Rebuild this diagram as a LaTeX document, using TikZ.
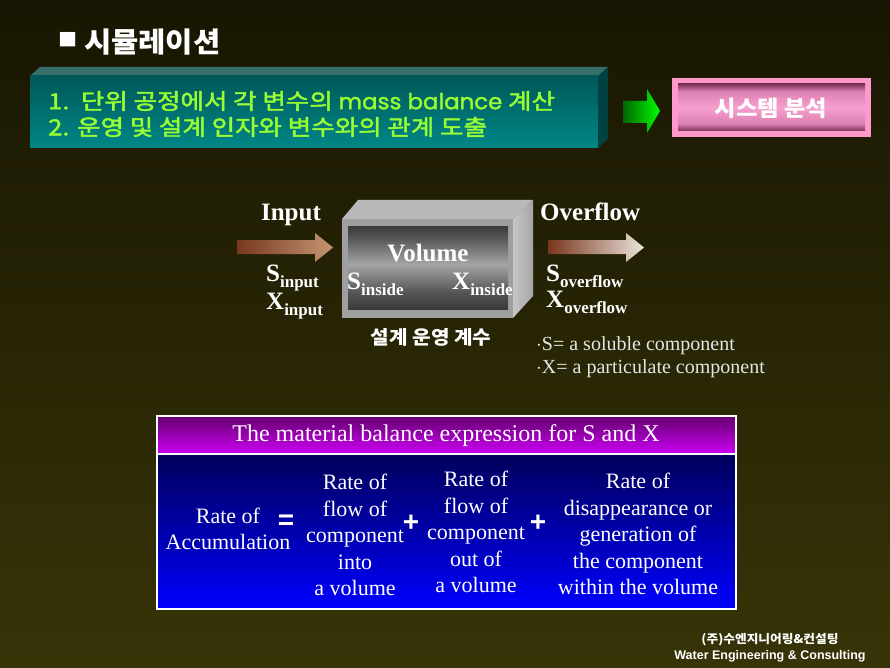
\documentclass[tikz,border=0pt]{standalone}
\usepackage{fontspec}
\setmainfont{Liberation Serif}
\newfontfamily\kr{Noto Sans CJK KR}[FakeStretch=1.06]
\newfontfamily\krwide{Noto Sans CJK KR}[FakeStretch=1.16,FakeBold=2]
\newfontfamily\geo{Poppins}[FakeStretch=1.04,FakeBold=1.5]
\newfontfamily\arialb{Liberation Sans}
\definecolor{bgtop}{RGB}{24,22,2}
\definecolor{bgbot}{RGB}{55,52,8}
\definecolor{leaf}{RGB}{153,255,51}
\definecolor{tealtop}{RGB}{0,88,88}
\definecolor{tealbot}{RGB}{0,135,135}
\definecolor{tealside}{RGB}{0,65,65}
\definecolor{tealroof}{RGB}{55,110,105}
\definecolor{pinkrim}{RGB}{255,153,204}
\definecolor{mauvedark}{RGB}{125,52,90}
\definecolor{mauvemid}{RGB}{222,128,178}
\definecolor{mauvelite}{RGB}{245,160,208}
\definecolor{brn}{RGB}{120,55,30}
\definecolor{tan}{RGB}{195,150,115}
\definecolor{cream}{RGB}{235,228,220}
\definecolor{plumtop}{RGB}{100,0,110}
\definecolor{plumbot}{RGB}{205,0,245}
\definecolor{navytop}{RGB}{0,0,90}
\definecolor{navybot}{RGB}{0,0,255}
\definecolor{voldark}{RGB}{58,58,58}
\definecolor{vollite}{RGB}{165,165,165}
\pgfdeclareverticalshading{volshade}{100bp}{color(0bp)=(voldark); color(25bp)=(voldark); color(35bp)=(voldark!75!vollite); color(52bp)=(vollite); color(67bp)=(voldark!70!vollite); color(75bp)=(voldark); color(100bp)=(voldark)}
\pgfdeclareverticalshading{pinkshade}{100bp}{color(0bp)=(mauvedark); color(25bp)=(mauvedark); color(33bp)=(mauvemid); color(50bp)=(mauvelite); color(67bp)=(mauvemid); color(75bp)=(mauvedark); color(100bp)=(mauvedark)}
\tikzset{
  wt/.style={text=white,inner sep=0pt},
  hangul/.style={wt,font=\kr\bfseries\fontsize{#1}{#1}\selectfont},
  bannerline/.style={inner sep=0pt,text=leaf,anchor=west,font=\krwide\fontsize{22}{22}\selectfont},
  varlbl/.style={wt,anchor=base west,font=\bfseries},
  eqtext/.style={wt,align=center,font=\fontsize{22}{26.5}\selectfont},
  eqsign/.style={wt,font=\arialb\bfseries\fontsize{28}{28}\selectfont}
}
\newcommand\flowvar[2]{{\fontsize{25}{25}\selectfont #1}\raisebox{-6pt}{\fontsize{17}{17}\selectfont #2}}
\begin{document}
\begin{tikzpicture}[x=1pt,y=-1pt]
\shade[top color=bgtop,bottom color=bgbot] (0,0) rectangle (890,668);
\useasboundingbox (0,0) rectangle (890,668);
\node[hangul=28,anchor=west] (title) at (58,42) {\raisebox{6pt}{\fontsize{18}{18}\selectfont ■}\ 시뮬레이션};

\fill[tealroof] (30,76) -- (40,67) -- (608,67) -- (598,76) -- cycle;
\shade[top color=tealtop,bottom color=tealbot] (30,76) rectangle (598,148);
\fill[tealside] (598,76) -- (608,67) -- (608,139) -- (598,148) -- cycle;
\node[bannerline] (step1) at (48,101) {1.\ \ 단위 공정에서 각 변수의 {\geo\fontsize{22}{22}\selectfont mass balance} 계산};
\node[bannerline] (step2) at (48,127) {2. 운영 및 설계 인자와 변수와의 관계 도출};

\shade[left color=green!40!black,right color=green] (623,101) -- (647,101) -- (647,89) -- (660,111) -- (647,133) -- (647,123) -- (623,123) -- cycle;
\fill[pinkrim] (672,78) rectangle (871,137);
\shade[shading=pinkshade] (678,84) rectangle (865,131);
\node[hangul=22] (analysis) at (771,108) {시스템 분석};

\def\flowarrow{(0,240) -- (78,240) -- (78,233) -- (96,247.5) -- (78,262) -- (78,254) -- (0,254) -- cycle}
\shade[left color=brn,right color=tan,shift={(237,0)}] \flowarrow;
\shade[left color=brn,right color=cream,shift={(548,0)}] \flowarrow;

\fill[gray!55] (342,219) -- (358,200) -- (533,200) -- (513,219) -- cycle;
\shade[left color=gray!45,right color=gray!70] (513,219) -- (533,200) -- (533,296) -- (513,318) -- cycle;
\fill[gray!75] (342,219) rectangle (513,318);
\shade[shading=volshade] (348,226) rectangle (508,309);

\node[wt,font=\bfseries\fontsize{25}{25}\selectfont] (input) at (291,215) {Input};
\node[varlbl] (sin) at (266,281) {\flowvar{S}{input}};
\node[varlbl] (xin) at (266,309) {\flowvar{X}{input}};
\node[wt,font=\bfseries\fontsize{25}{25}\selectfont] (volume) at (428,253) {Volume};
\node[varlbl] (sins) at (347,289) {\flowvar{S}{inside}};
\node[varlbl] (xins) at (452,289) {\flowvar{X}{inside}};
\node[hangul=19] (design) at (431,337) {설계 운영 계수};
\node[wt,font=\bfseries\fontsize{25}{25}\selectfont,anchor=base west] (overflow) at (540,221) {Overflow};
\node[varlbl] (sout) at (546,281) {\flowvar{S}{overflow}};
\node[varlbl] (xout) at (546,307) {\flowvar{X}{overflow}};
\node[wt,text=white!90!black,anchor=base west,font=\fontsize{20}{20}\selectfont] (soluble) at (536,350) {$\cdot$S= a soluble component};
\node[wt,text=white!90!black,anchor=base west,font=\fontsize{20}{20}\selectfont] (partic) at (536,373) {$\cdot$X= a particulate component};

\shade[top color=plumtop,bottom color=plumbot] (157,416) rectangle (736,454);
\shade[top color=navytop,bottom color=navybot] (157,454) rectangle (736,609);
\draw[white,line width=1.5pt] (157,416) rectangle (736,609) (157,454) -- (736,454);
\node[wt,font=\fontsize{24}{24}\selectfont] (header) at (446,436) {The material balance expression for S and X};
\node[eqtext] (accum) at (228,529) {Rate of\\Accumulation};
\node[eqsign] (equals) at (286,522) {=};
\node[eqtext] (inflow) at (355,535) {Rate of\\flow of\\component\\into\\a volume};
\node[eqsign] (plus1) at (411,523) {+};
\node[eqtext] (outflow) at (476,532) {Rate of\\flow of\\component\\out of\\a volume};
\node[eqsign] (plus2) at (538,523) {+};
\node[eqtext] (reaction) at (638,534) {Rate of\\disappearance or\\generation of\\the component\\within the volume};

\node[hangul=12] (company) at (770,640) {(주)수엔지니어링\&컨설팅};
\node[wt,font=\arialb\bfseries\fontsize{12.5}{12.5}\selectfont] (companyen) at (770,656) {Water Engineering \& Consulting};
\end{tikzpicture}
\end{document}
